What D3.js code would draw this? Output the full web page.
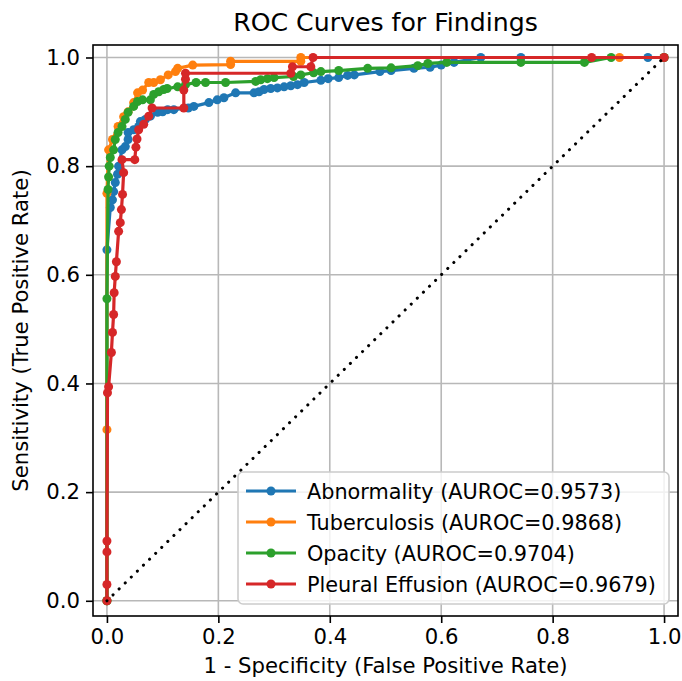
<!DOCTYPE html>
<html>
<head>
<meta charset="utf-8">
<script src="https://cdn.jsdelivr.net/npm/d3@7"></script>
<style>
  body { margin: 0; background: #fff; }
  svg text { font-family: "DejaVu Sans", sans-serif; fill: #000; }
</style>
</head>
<body>
<div id="chart"></div>
<script>
// ROC points, [false positive rate, true positive rate]
const abnormality = [
  [0, 0], [0, 0.646], [0.006, 0.724], [0.01, 0.738], [0.012, 0.753], [0.015, 0.77], [0.019, 0.785],
  [0.021, 0.8], [0.027, 0.83], [0.033, 0.836], [0.038, 0.849], [0.038, 0.862], [0.048, 0.867],
  [0.057, 0.873], [0.06, 0.882], [0.069, 0.886], [0.078, 0.892], [0.091, 0.899], [0.1, 0.9],
  [0.109, 0.904], [0.12, 0.904], [0.146, 0.907], [0.156, 0.91], [0.183, 0.917], [0.198, 0.922],
  [0.21, 0.926], [0.231, 0.935], [0.264, 0.935], [0.273, 0.937], [0.282, 0.941], [0.294, 0.943],
  [0.306, 0.944], [0.318, 0.946], [0.33, 0.948], [0.342, 0.95], [0.354, 0.954], [0.384, 0.958],
  [0.397, 0.961], [0.416, 0.963], [0.432, 0.967], [0.444, 0.968], [0.49, 0.974], [0.51, 0.976],
  [0.551, 0.98], [0.58, 0.982], [0.6, 0.986], [0.623, 0.991], [0.671, 1.0], [0.743, 1.0],
  [0.971, 1.0], [1, 1]
];
const tuberculosis = [
  [0, 0], [0, 0.315], [0, 0.75], [0.003, 0.83], [0.01, 0.849], [0.02, 0.873], [0.03, 0.891],
  [0.038, 0.9], [0.048, 0.917], [0.055, 0.935], [0.064, 0.94], [0.075, 0.954], [0.084, 0.954],
  [0.096, 0.959], [0.11, 0.968], [0.123, 0.974], [0.127, 0.98], [0.154, 0.986], [0.222, 0.987],
  [0.222, 0.993], [0.348, 0.993], [0.348, 1.0], [0.92, 1.0], [1, 1]
];
const opacity = [
  [0, 0], [0, 0.556], [0.002, 0.757], [0.003, 0.78], [0.004, 0.8], [0.006, 0.816], [0.012, 0.83],
  [0.015, 0.849], [0.02, 0.862], [0.027, 0.873], [0.033, 0.886], [0.038, 0.899], [0.048, 0.91],
  [0.055, 0.919], [0.064, 0.922], [0.078, 0.922], [0.084, 0.932], [0.093, 0.937], [0.102, 0.941],
  [0.108, 0.943], [0.127, 0.946], [0.141, 0.95], [0.16, 0.954], [0.177, 0.954], [0.213, 0.954],
  [0.267, 0.956], [0.276, 0.959], [0.288, 0.961], [0.3, 0.963], [0.335, 0.965], [0.348, 0.968],
  [0.371, 0.972], [0.384, 0.974], [0.416, 0.976], [0.468, 0.98], [0.51, 0.981], [0.558, 0.985],
  [0.576, 0.989], [0.61, 0.991], [0.743, 0.991], [0.857, 0.991], [0.905, 1.0], [1, 1]
];
const pleuralEffusion = [
  [0, 0], [0, 0.03], [0, 0.09], [0, 0.11], [0.001, 0.383], [0.003, 0.394], [0.008, 0.457],
  [0.01, 0.494], [0.012, 0.527], [0.013, 0.567], [0.015, 0.597], [0.017, 0.624], [0.021, 0.68],
  [0.024, 0.696], [0.026, 0.72], [0.028, 0.748], [0.03, 0.788], [0.027, 0.812], [0.05, 0.812],
  [0.052, 0.835], [0.054, 0.85], [0.057, 0.867], [0.066, 0.877], [0.075, 0.892], [0.081, 0.907],
  [0.138, 0.907], [0.138, 0.94], [0.141, 0.96], [0.141, 0.971], [0.33, 0.971], [0.333, 0.983],
  [0.366, 0.983], [0.37, 1.0], [0.87, 1.0], [1, 1]
];

const findings = ['Abnormality', 'Tuberculosis', 'Opacity', 'Pleural Effusion'];
const aurocs = [0.9573, 0.9868, 0.9704, 0.9679];
const curves = [abnormality, tuberculosis, opacity, pleuralEffusion];
const colors = ['#1f77b4', '#ff7f0e', '#2ca02c', '#d62728'];
const tickValues = [0, 0.2, 0.4, 0.6, 0.8, 1.0];

const width = 682, height = 681;
const margin = { top: 45, right: 4, bottom: 65, left: 93 };
const innerW = width - margin.left - margin.right;
const innerH = height - margin.top - margin.bottom;
const fontSize = '21.2px';

const x = d3.scaleLinear().domain([-0.025, 1.025]).range([0, innerW]);
const y = d3.scaleLinear().domain([-0.028, 1.023]).range([innerH, 0]);

const svg = d3.select('#chart').append('svg')
  .attr('width', width)
  .attr('height', height);

const g = svg.append('g')
  .attr('transform', `translate(${margin.left},${margin.top})`);

// grid
g.append('g').selectAll('line')
  .data(tickValues).enter().append('line')
  .attr('x1', d => x(d)).attr('x2', d => x(d))
  .attr('y1', 0).attr('y2', innerH)
  .attr('stroke', '#b8b8b8').attr('stroke-width', 1.6);
g.append('g').selectAll('line')
  .data(tickValues).enter().append('line')
  .attr('y1', d => y(d)).attr('y2', d => y(d))
  .attr('x1', 0).attr('x2', innerW)
  .attr('stroke', '#b8b8b8').attr('stroke-width', 1.6);

// axes
const xAxis = g.append('g')
  .attr('transform', `translate(0,${innerH})`)
  .call(d3.axisBottom(x).tickValues(tickValues).tickFormat(d3.format('.1f')).tickSize(7).tickPadding(6));
const yAxis = g.append('g')
  .call(d3.axisLeft(y).tickValues(tickValues).tickFormat(d3.format('.1f')).tickSize(7).tickPadding(6));
[xAxis, yAxis].forEach(a => {
  a.select('.domain').remove();
  a.selectAll('line').attr('stroke', '#000').attr('stroke-width', 1.6);
  a.selectAll('text').style('font-size', fontSize).style('font-family', '"DejaVu Sans", sans-serif');
});

// curves
const line = d3.line().x(d => x(d[0])).y(d => y(d[1]));
curves.forEach((data, i) => {
  const cg = g.append('g');
  cg.append('path')
    .datum(data)
    .attr('d', line)
    .attr('fill', 'none')
    .attr('stroke', colors[i])
    .attr('stroke-width', 3.2)
    .attr('stroke-linejoin', 'round');
  cg.selectAll('circle')
    .data(data).enter().append('circle')
    .attr('cx', d => x(d[0]))
    .attr('cy', d => y(d[1]))
    .attr('r', 4.5)
    .attr('fill', colors[i]);
});

// chance diagonal
g.append('path')
  .datum([[0, 0], [1, 1]])
  .attr('d', line)
  .attr('fill', 'none')
  .attr('stroke', '#000')
  .attr('stroke-width', 3)
  .attr('stroke-linecap', 'round')
  .attr('stroke-dasharray', '0.1,8.4');

// frame
g.append('rect')
  .attr('width', innerW).attr('height', innerH)
  .attr('fill', 'none').attr('stroke', '#000').attr('stroke-width', 1.6);

// legend
const legend = g.append('g').attr('transform', `translate(${238 - margin.left},${472 - margin.top})`);
legend.append('rect')
  .attr('width', 431).attr('height', 132)
  .attr('rx', 5)
  .attr('fill', '#fff').attr('fill-opacity', 0.8)
  .attr('stroke', '#cccccc').attr('stroke-width', 1.6);
findings.forEach((name, i) => {
  const row = legend.append('g').attr('transform', `translate(0,${19 + i * 31})`);
  row.append('line')
    .attr('x1', 8).attr('x2', 58)
    .attr('stroke', colors[i]).attr('stroke-width', 3.2);
  row.append('circle').attr('cx', 33).attr('r', 4.5).attr('fill', colors[i]);
  row.append('text')
    .attr('x', 69).attr('dy', '0.36em')
    .style('font-size', '20.8px')
    .text(`${name} (AUROC=${aurocs[i].toFixed(4)})`);
});

// title and labels
svg.append('text')
  .attr('x', margin.left + innerW / 2).attr('y', 31)
  .attr('text-anchor', 'middle')
  .style('font-size', '25.2px')
  .text('ROC Curves for Findings');
svg.append('text')
  .attr('x', margin.left + innerW / 2).attr('y', 673)
  .attr('text-anchor', 'middle')
  .style('font-size', fontSize)
  .text('1 - Specificity (False Positive Rate)');
svg.append('text')
  .attr('transform', `translate(28,${margin.top + innerH / 2}) rotate(-90)`)
  .attr('text-anchor', 'middle')
  .style('font-size', fontSize)
  .text('Sensitivity (True Positive Rate)');
</script>
</body>
</html>
